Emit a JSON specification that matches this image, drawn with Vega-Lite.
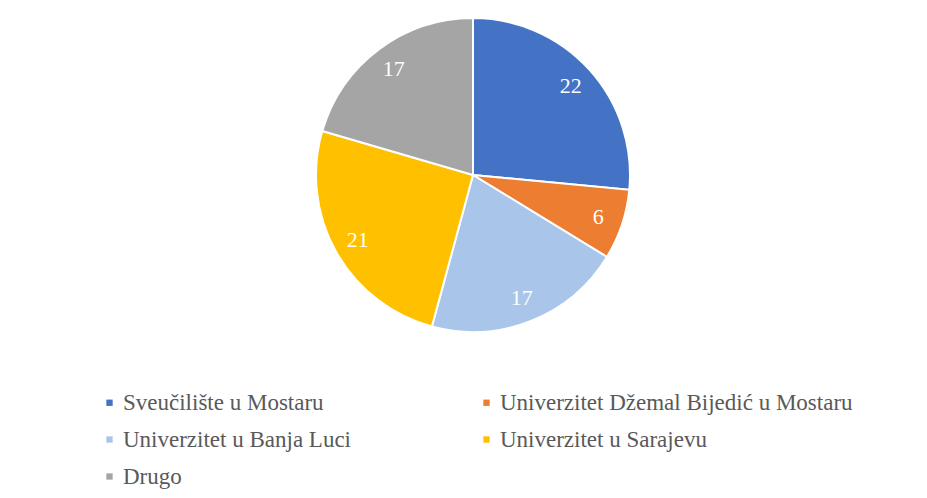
{
  "$schema": "https://vega.github.io/schema/vega-lite/v6.json",
  "width": 928,
  "height": 350,
  "padding": {"left": 9, "top": 0, "right": 0, "bottom": 0},
  "background": "white",
  "config": {"view": {"stroke": null}},
  "data": {
    "values": [
      {"idx": 1, "category": "Sveučilište u Mostaru", "value": 22},
      {"idx": 2, "category": "Univerzitet Džemal Bijedić u Mostaru", "value": 6},
      {"idx": 3, "category": "Univerzitet u Banja Luci", "value": 17},
      {"idx": 4, "category": "Univerzitet u Sarajevu", "value": 21},
      {"idx": 5, "category": "Drugo", "value": 17}
    ]
  },
  "encoding": {
    "theta": {"field": "value", "type": "quantitative", "stack": true},
    "order": {"field": "idx", "type": "quantitative"}
  },
  "layer": [
    {
      "mark": {"type": "arc", "outerRadius": 157, "stroke": "white", "strokeWidth": 2},
      "encoding": {
        "color": {
          "field": "category",
          "type": "nominal",
          "sort": null,
          "scale": {
            "domain": ["Sveučilište u Mostaru", "Univerzitet Džemal Bijedić u Mostaru", "Univerzitet u Banja Luci", "Univerzitet u Sarajevu", "Drugo"],
            "range": ["#4472C4", "#ED7D31", "#A9C6EA", "#FFC000", "#A5A5A5"]
          },
          "legend": {
            "title": null,
            "orient": "none",
            "legendX": 89,
            "legendY": 391,
            "direction": "horizontal",
            "columns": 2,
            "symbolType": "square",
            "symbolSize": 40,
            "symbolStrokeWidth": 0,
            "labelFont": "'Liberation Serif', serif",
            "labelFontSize": 23,
            "labelColor": "#595959",
            "labelOffset": 2,
            "labelLimit": 500,
            "columnPadding": 123,
            "rowPadding": 13,
            "padding": 0
          }
        }
      }
    },
    {
      "mark": {"type": "text", "radius": 132, "font": "'Liberation Serif', serif", "fontSize": 22, "fill": "white", "align": "center", "baseline": "middle"},
      "encoding": {
        "text": {"field": "value", "type": "quantitative"}
      }
    }
  ]
}
